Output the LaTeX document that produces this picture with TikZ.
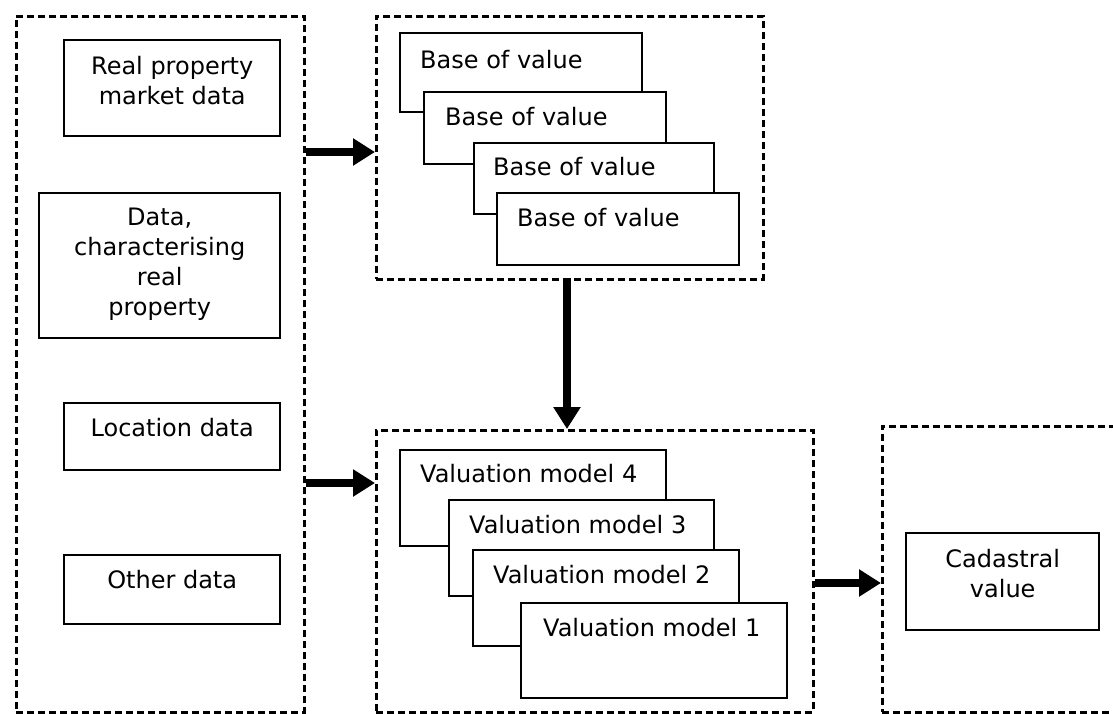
\documentclass[tikz,border=0pt]{standalone}
\usepackage{fontspec}
\setmainfont{DejaVu Sans}
\usetikzlibrary{arrows.meta,calc}
\tikzset{
  dbox/.style={draw, line width=2.6pt, dash pattern=on 7pt off 4pt, anchor=north west, inner sep=0pt},
  sbox/.style={draw, line width=2.4pt, fill=white, anchor=north west, inner sep=0pt},
  ctext/.style={align=center, inner sep=0pt, font=\fontsize{24}{30}\selectfont},
  ltext/.style={anchor=west, inner sep=0pt, font=\fontsize{24}{30}\selectfont},
  arr/.style={line width=7.5pt, -{Triangle[length=22pt,width=26pt]}}
}
\begin{document}
\begin{tikzpicture}[x=1pt,y=-1pt]
\useasboundingbox (0,0) rectangle (1113,713);
\clip (0,0) rectangle (1113,713);
\fill[white] (0,0) rectangle (1113,713);
% dashed frames
\node[dbox, minimum width=288pt, minimum height=696pt] (L) at (15,15) {};
\node[dbox, minimum width=387pt, minimum height=263pt] (T) at (375,15) {};
\node[dbox, minimum width=437pt, minimum height=282pt] (M) at (375,429) {};
\node[dbox, minimum width=260pt, minimum height=286pt] (R) at (881,425) {};
% left inputs
\node[sbox, minimum width=216pt, minimum height=96pt] (rp) at (63,39) {};
\node[ctext] (rpt) at ($(rp.center)+(0,-8)$) {Real property\\market data};
\node[sbox, minimum width=241pt, minimum height=145pt] (dc) at (38,192) {};
\node[ctext] (dct) at ($(dc.center)+(0,-1)$) {Data,\\characterising\\real\\property};
\node[sbox, minimum width=216pt, minimum height=67pt] (ld) at (63,402) {};
\node[ctext] (ldt) at ($(ld.center)+(0,-9)$) {Location data};
\node[sbox, minimum width=216pt, minimum height=69pt] (od) at (63,554) {};
\node[ctext] (odt) at ($(od.center)+(0,-10)$) {Other data};
% bases of value
\node[sbox, minimum width=242pt, minimum height=79pt] (b1) at (399,32) {};
\node[ltext] (b1t) at ($(b1.north west)+(21,28)$) {Base of value};
\node[sbox, minimum width=242pt, minimum height=72pt] (b2) at (423,91) {};
\node[ltext] (b2t) at ($(b2.north west)+(22,26)$) {Base of value};
\node[sbox, minimum width=240pt, minimum height=71pt] (b3) at (473,142) {};
\node[ltext] (b3t) at ($(b3.north west)+(20,25)$) {Base of value};
\node[sbox, minimum width=242pt, minimum height=72pt] (b4) at (496,192) {};
\node[ltext] (b4t) at ($(b4.north west)+(21,26)$) {Base of value};
% valuation models
\node[sbox, minimum width=266pt, minimum height=96pt] (v4) at (399,449) {};
\node[ltext] (v4t) at ($(v4.north west)+(21,25)$) {Valuation model 4};
\node[sbox, minimum width=265pt, minimum height=96pt] (v3) at (448,499) {};
\node[ltext] (v3t) at ($(v3.north west)+(21,26)$) {Valuation model 3};
\node[sbox, minimum width=266pt, minimum height=96pt] (v2) at (472,549) {};
\node[ltext] (v2t) at ($(v2.north west)+(21,26)$) {Valuation model 2};
\node[sbox, minimum width=266pt, minimum height=95pt] (v1) at (520,602) {};
\node[ltext] (v1t) at ($(v1.north west)+(23,26)$) {Valuation model 1};
% result
\node[sbox, minimum width=193pt, minimum height=97pt] (cv) at (905,532) {};
\node[ctext] (cvt) at ($(cv.center)+(0,-8)$) {Cadastral\\value};
% connectors
\coordinate (a1s) at (L.east |- 0,152);
\coordinate (a1e) at (T.west |- 0,152);
\coordinate (a2s) at (L.east |- 0,483);
\coordinate (a2e) at (M.west |- 0,483);
\coordinate (a3s) at (567,278);
\coordinate (a3e) at (567,429);
\coordinate (a4s) at (M.east |- 0,583);
\coordinate (a4e) at (R.west |- 0,583);
\draw[arr] (a1s) -- (a1e);
\draw[arr] (a2s) -- (a2e);
\draw[arr] (a3s) -- (a3e);
\draw[arr] (a4s) -- (a4e);
\end{tikzpicture}
\end{document}
